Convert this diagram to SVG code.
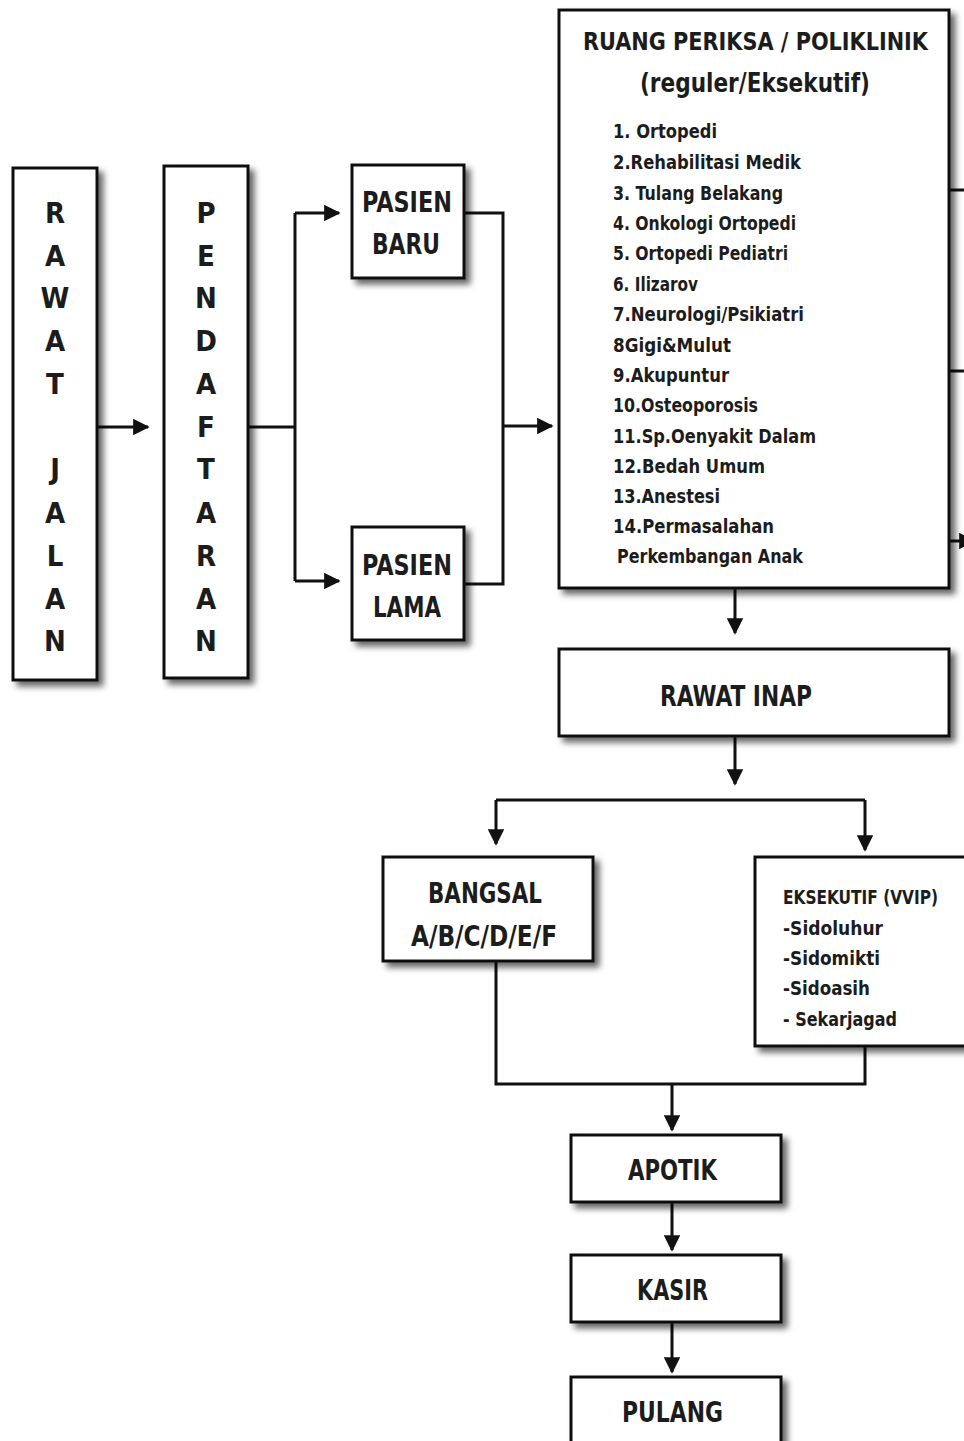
<svg xmlns="http://www.w3.org/2000/svg" width="964" height="1441" viewBox="0 0 964 1441">
<defs>
<filter id="sh" x="-10%" y="-10%" width="130%" height="130%">
<feDropShadow dx="5" dy="5" stdDeviation="3" flood-color="#000" flood-opacity="0.6"/>
</filter>
<marker id="ah" viewBox="0 0 10 10" refX="9" refY="5" markerWidth="5.5" markerHeight="5.5" markerUnits="strokeWidth" orient="auto">
<path d="M0,0 L10,5 L0,10 z" fill="#111"/>
</marker>
<style>
.box{fill:#fff;stroke:#111;stroke-width:3;filter:url(#sh)}
.t{font-family:"DejaVu Sans Condensed","Liberation Sans Narrow","Liberation Sans",sans-serif;font-weight:bold;fill:#1c1c1c}
.big{font-size:29px}
.mid{font-size:27px}
.li{font-size:20px}
.sm{font-size:19px}
.c{text-anchor:middle}
.con{fill:none;stroke:#111;stroke-width:3}
</style>
</defs>
<rect width="964" height="1441" fill="#fff"/>

<g id="connectors">
<path class="con" d="M97,427 H148" marker-end="url(#ah)"/>
<path class="con" d="M248,427 H295 M295,213 V581"/>
<path class="con" d="M295,213 H339" marker-end="url(#ah)"/>
<path class="con" d="M295,581 H339" marker-end="url(#ah)"/>
<path class="con" d="M464,213 H503 V584 H464"/>
<path class="con" d="M503,426 H552" marker-end="url(#ah)"/>
<path class="con" d="M949,190 H964 M949,371 H964"/>
<path class="con" d="M949,541 H974" marker-end="url(#ah)"/>
<path class="con" d="M735,588 V633" marker-end="url(#ah)"/>
<path class="con" d="M735,736 V784" marker-end="url(#ah)"/>
<path class="con" d="M496,800 H865"/>
<path class="con" d="M496,800 V844" marker-end="url(#ah)"/>
<path class="con" d="M865,800 V850" marker-end="url(#ah)"/>
<path class="con" d="M496,961 V1084 H865 V1046"/>
<path class="con" d="M672,1084 V1130" marker-end="url(#ah)"/>
<path class="con" d="M672,1202 V1250" marker-end="url(#ah)"/>
<path class="con" d="M672,1322 V1372" marker-end="url(#ah)"/>
</g>

<g id="rawat-jalan">
<rect class="box" x="13" y="168" width="84" height="512"/>
<g class="t big c">
<text x="55" y="223">R</text><text x="55" y="266">A</text><text x="55" y="308">W</text><text x="55" y="351">A</text><text x="55" y="394">T</text>
<text x="55" y="479">J</text><text x="55" y="523">A</text><text x="55" y="566">L</text><text x="55" y="609">A</text><text x="55" y="651">N</text>
</g>
</g>

<g id="pendaftaran">
<rect class="box" x="164" y="166" width="84" height="512"/>
<g class="t big c">
<text x="206" y="223">P</text><text x="206" y="266">E</text><text x="206" y="308">N</text><text x="206" y="351">D</text><text x="206" y="394">A</text><text x="206" y="437">F</text><text x="206" y="479">T</text><text x="206" y="523">A</text><text x="206" y="566">R</text><text x="206" y="609">A</text><text x="206" y="651">N</text>
</g>
</g>

<g id="pasien-baru">
<rect class="box" x="352" y="165" width="112" height="113"/>
<text class="t big" x="362" y="212" textLength="90" lengthAdjust="spacingAndGlyphs">PASIEN</text>
<text class="t big" x="372" y="254" textLength="68" lengthAdjust="spacingAndGlyphs">BARU</text>
</g>

<g id="pasien-lama">
<rect class="box" x="352" y="527" width="112" height="113"/>
<text class="t big" x="362" y="575" textLength="90" lengthAdjust="spacingAndGlyphs">PASIEN</text>
<text class="t big" x="373" y="617" textLength="68" lengthAdjust="spacingAndGlyphs">LAMA</text>
</g>

<g id="poliklinik">
<rect class="box" x="559" y="10" width="390" height="578"/>
<text class="t" style="font-size:25px" x="583" y="50" textLength="345" lengthAdjust="spacingAndGlyphs">RUANG PERIKSA / POLIKLINIK</text>
<text class="t mid" x="640" y="92" textLength="230" lengthAdjust="spacingAndGlyphs">(reguler/Eksekutif)</text>
<g class="t li">
<text x="613" y="138" textLength="104" lengthAdjust="spacingAndGlyphs">1.  Ortopedi</text>
<text x="613" y="169" textLength="188" lengthAdjust="spacingAndGlyphs">2.Rehabilitasi Medik</text>
<text x="613" y="200" textLength="170" lengthAdjust="spacingAndGlyphs">3. Tulang Belakang</text>
<text x="613" y="230" textLength="183" lengthAdjust="spacingAndGlyphs">4. Onkologi Ortopedi</text>
<text x="613" y="260" textLength="175" lengthAdjust="spacingAndGlyphs">5. Ortopedi Pediatri</text>
<text x="613" y="291" textLength="85" lengthAdjust="spacingAndGlyphs">6. Ilizarov</text>
<text x="613" y="321" textLength="191" lengthAdjust="spacingAndGlyphs">7.Neurologi/Psikiatri</text>
<text x="613" y="352" textLength="118" lengthAdjust="spacingAndGlyphs">8Gigi&amp;Mulut</text>
<text x="613" y="382" textLength="116" lengthAdjust="spacingAndGlyphs">9.Akupuntur</text>
<text x="613" y="412" textLength="145" lengthAdjust="spacingAndGlyphs">10.Osteoporosis</text>
<text x="613" y="443" textLength="203" lengthAdjust="spacingAndGlyphs">11.Sp.Oenyakit Dalam</text>
<text x="613" y="473" textLength="152" lengthAdjust="spacingAndGlyphs">12.Bedah Umum</text>
<text x="613" y="503" textLength="107" lengthAdjust="spacingAndGlyphs">13.Anestesi</text>
<text x="613" y="533" textLength="161" lengthAdjust="spacingAndGlyphs">14.Permasalahan</text>
<text x="617" y="563" textLength="186" lengthAdjust="spacingAndGlyphs">Perkembangan Anak</text>
</g>
</g>

<g id="rawat-inap">
<rect class="box" x="559" y="649" width="390" height="87"/>
<text class="t big" x="660" y="706" textLength="152" lengthAdjust="spacingAndGlyphs">RAWAT INAP</text>
</g>

<g id="bangsal">
<rect class="box" x="383" y="857" width="210" height="104"/>
<text class="t big" x="428" y="903" textLength="114" lengthAdjust="spacingAndGlyphs">BANGSAL</text>
<text class="t big" x="411" y="946" textLength="146" lengthAdjust="spacingAndGlyphs">A/B/C/D/E/F</text>
</g>

<g id="eksekutif">
<rect class="box" x="755" y="857" width="220" height="189"/>
<g class="t sm">
<text x="783" y="904" textLength="155" lengthAdjust="spacingAndGlyphs">EKSEKUTIF (VVIP)</text>
<text x="783" y="935" textLength="100" lengthAdjust="spacingAndGlyphs">-Sidoluhur</text>
<text x="783" y="965" textLength="97" lengthAdjust="spacingAndGlyphs">-Sidomikti</text>
<text x="783" y="995" textLength="87" lengthAdjust="spacingAndGlyphs">-Sidoasih</text>
<text x="783" y="1026" textLength="114" lengthAdjust="spacingAndGlyphs">- Sekarjagad</text>
</g>
</g>

<g id="apotik">
<rect class="box" x="571" y="1135" width="210" height="67"/>
<text class="t big" x="628" y="1180" textLength="89" lengthAdjust="spacingAndGlyphs">APOTIK</text>
</g>

<g id="kasir">
<rect class="box" x="571" y="1255" width="210" height="67"/>
<text class="t big" x="637" y="1300" textLength="71" lengthAdjust="spacingAndGlyphs">KASIR</text>
</g>

<g id="pulang">
<rect class="box" x="571" y="1377" width="210" height="80"/>
<text class="t big" x="622" y="1422" textLength="101" lengthAdjust="spacingAndGlyphs">PULANG</text>
</g>
</svg>
